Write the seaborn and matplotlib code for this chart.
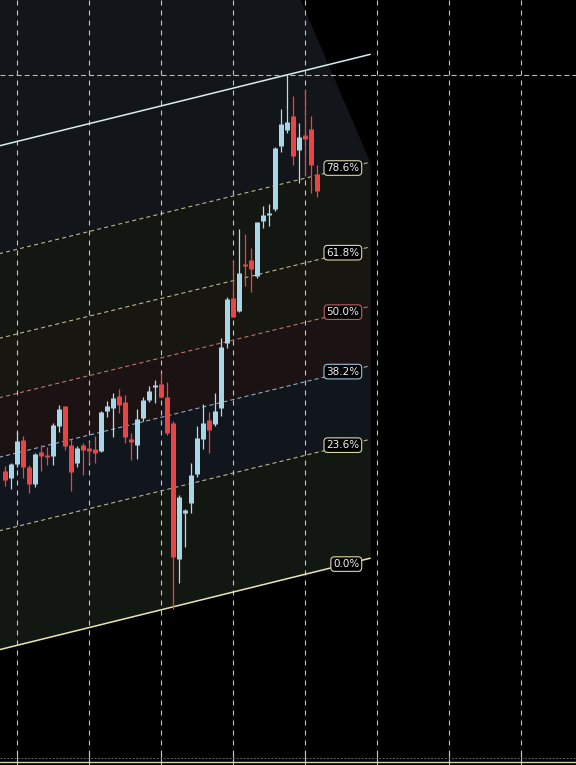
import numpy as np
import pandas as pd
import matplotlib
matplotlib.use("Agg")
import matplotlib.pyplot as plt
import seaborn as sns

# ---------------- data ----------------
bar_index = list(range(-3, 51))
opens = [270, 294, 287, 301, 325, 298, 281, 313, 310, 309, 339, 359, 320, 302, 320, 317, 316, 314,
         354, 357, 369, 363, 326, 320, 347, 365, 378, 381, 368, 342, 206, 252, 262, 291, 326, 345,
         341, 357, 422, 467, 454, 501, 505, 489, 544, 550, 556, 619, 635, 649, 615, 630, 636, 591]
highs = [295, 299, 302, 334, 329, 300, 312, 320, 318, 342, 360, 359, 326, 319, 322, 323, 329, 354,
         364, 372, 376, 370, 332, 356, 368, 379, 385, 392, 383, 344, 270, 256, 302, 339, 361, 353,
         372, 427, 468, 504, 536, 531, 517, 543, 559, 561, 618, 656, 690, 669, 642, 676, 649, 600]
lows = [267, 279, 276, 298, 287, 272, 278, 294, 300, 300, 333, 315, 274, 298, 290, 302, 302, 313,
        348, 328, 352, 322, 305, 306, 344, 363, 362, 367, 330, 156, 182, 218, 252, 288, 316, 312,
        339, 349, 417, 448, 453, 479, 473, 487, 537, 539, 554, 613, 632, 600, 582, 589, 572, 568]
closes = [292, 285, 301, 324, 298, 281, 311, 309, 308, 340, 356, 319, 293, 317, 315, 314, 312, 353,
          359, 367, 360, 328, 323, 346, 365, 374, 379, 368, 332, 208, 268, 255, 290, 327, 342, 335,
          354, 418, 466, 448, 492, 499, 496, 543, 550, 552, 617, 641, 643, 609, 628, 626, 600, 574]

fib_levels = [0.0, 0.236, 0.382, 0.5, 0.618, 0.786, 1.0]
fib_labels = ["0.0%", "23.6%", "38.2%", "50.0%", "61.8%", "78.6%", "100%"]
anchor_low_bar, anchor_low_price = 26, 158
anchor_high_bar, anchor_high_price = 45, 690
channel_slope = 1.48          # price units per bar
channel_start_bar, channel_end_bar = -12, 58.95
grid_bars = [0, 12, 24, 36, 48, 60, 72, 84]
high_line_price = 690

# ---------------- style ----------------
sns.set_style("dark", {"axes.facecolor": "black", "figure.facecolor": "black"})
plt.rcParams["font.family"] = ["DejaVu Sans"]
plt.rcParams["lines.scale_dashes"] = False

fig = plt.figure(figsize=(5.76, 7.65), dpi=100)
ax = fig.add_axes([0, 0, 1, 1])
ax.set_facecolor("black")

band_colors = ["#131711", "#11151c", "#1b1214", "#181610", "#131611", "#121519"]
line_colors = ["#e6e6b4", "#b9b991", "#8fb0c2", "#c07474", "#b9b991", "#b9b991", "#d9ecee"]
label_edge = ["#d8d8a8", "#d8d8a8", "#9cc2d6", "#c06060", "#d8d8a8", "#d8d8a8"]


def base(j):
    return anchor_low_price + channel_slope * (np.asarray(j, dtype=float) - anchor_low_bar)


ch_height = anchor_high_price - base(anchor_high_bar)


def level(j, f):
    return base(j) + f * ch_height


xs = np.array([channel_start_bar, channel_end_bar])

# dark area above 78.6 % with diagonal right edge
diag_top_bar = 47.37
top_poly = [(channel_start_bar, level(channel_start_bar, 0.786)),
            (channel_end_bar, level(channel_end_bar, 0.786)),
            (diag_top_bar, 765), (channel_start_bar, 765)]
ax.add_patch(plt.Polygon(top_poly, closed=True, fc=band_colors[-1], ec="none", zorder=0))

# bands below 78.6 %
for k in range(len(fib_levels) - 2):
    ax.fill_between(xs, level(xs, fib_levels[k]), level(xs, fib_levels[k + 1]),
                    color=band_colors[k], lw=0, zorder=0.5)

# vertical grid
for g in grid_bars:
    ax.axvline(g, color="#c4c4c4", lw=0.8, ls=(0, (3.6, 3.6)), zorder=1)
    ax.plot([g, g], [3, 13], color="#c4c4c4", lw=0.8, zorder=1)

# high line
ax.axhline(high_line_price, color="#c0c094", lw=0.8, ls=(0, (3.6, 2.2)), zorder=1.2)

# bottom lines
ax.axhline(7, color="#5a5a5a", lw=0.8, ls=(0, (1.5, 1.0)), zorder=1.2)
ax.axhline(3, color="#d8d8a8", lw=1.0, zorder=1.2)

# fib lines
for f, c in zip(fib_levels, line_colors):
    df = pd.DataFrame({"bar": xs, "price": level(xs, f)})
    solid = f in (0.0, 1.0)
    sns.lineplot(data=df, x="bar", y="price", ax=ax, color=c,
                 lw=1.1 if solid else 0.8,
                 ls="-" if solid else (0, (3.0, 2.2)), zorder=2)

# candles
o = np.array(opens, float)
h = np.array(highs, float)
l = np.array(lows, float)
c = np.array(closes, float)
xb = np.array(bar_index, float)
up = c >= o
up_col, dn_col = "#a9d6e6", "#e84646"
wick_cols = np.where(up, "#b0dcec", "#ff3c3c")
body_cols = np.where(up, up_col, dn_col)
ax.vlines(xb, l, h, colors=wick_cols, lw=0.9, zorder=3)
body_bot = np.minimum(o, c)
body_top = np.maximum(o, c)
body_top = np.maximum(body_top, body_bot + 1.8)
body_lines = ax.vlines(xb, body_bot, body_top, colors=body_cols, lw=3.6, zorder=4)
body_lines.set_capstyle("butt")

# labels
label_bar = 57.15
label_at = 55.0
for f, txt, ec in zip(fib_levels[:-1], fib_labels[:-1], label_edge):
    ax.text(label_bar, level(label_at, f), txt, ha="right", va="center",
            fontsize=7.5, color="#f2f2f2", zorder=6,
            bbox=dict(boxstyle="round,pad=0.22,rounding_size=0.35", fc="black", ec=ec, lw=0.8))

ax.set_xlim(-2.75, 93.25)
ax.set_ylim(0, 765)
ax.set_axis_off()

fig.savefig("out.png", dpi=100, facecolor="black")
